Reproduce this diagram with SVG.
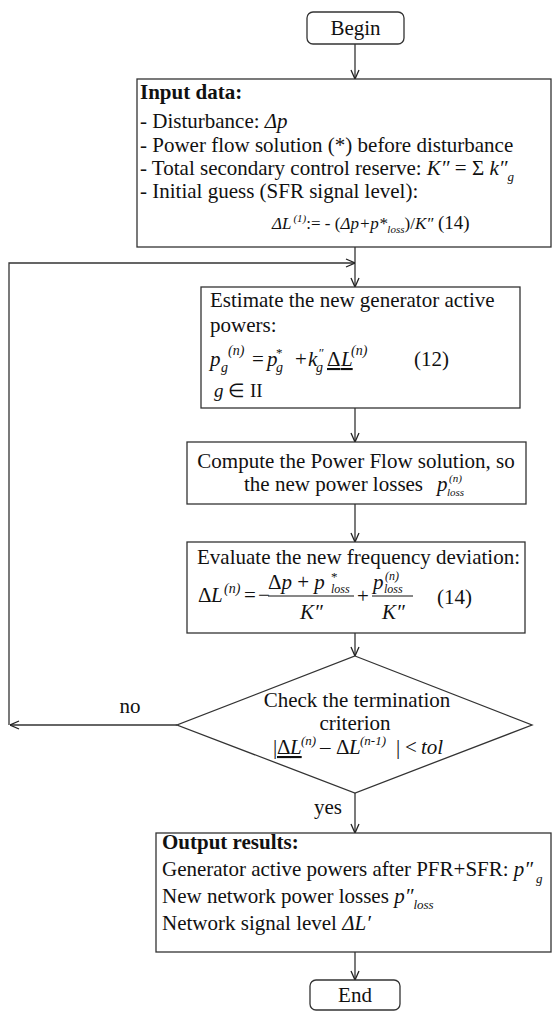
<svg xmlns="http://www.w3.org/2000/svg" width="553" height="1011" viewBox="0 0 553 1011" font-family="'Liberation Serif','Times New Roman',serif" font-size="21">
<style>
text{fill:#111}
.b{font-weight:bold}
.i{font-style:italic}
.n{font-style:normal}
.m{text-anchor:middle}
.box{fill:#fff;stroke:#333;stroke-width:1.3}
.cn{fill:none;stroke:#333;stroke-width:1.3}
.bar{stroke:#111;stroke-width:1}
</style>
<defs>
<marker id="ah" viewBox="0 0 10 10" refX="10" refY="5" markerWidth="10" markerHeight="10" markerUnits="userSpaceOnUse" orient="auto">
<path d="M1,1 L10,5 L1,9" fill="none" stroke="#222" stroke-width="1.3"/>
</marker>
</defs>
<rect x="0" y="0" width="553" height="1011" fill="#fff"/>

<g id="connectors">
<path class="cn" d="M355,44 V79" marker-end="url(#ah)"/>
<path class="cn" d="M355,247 V287" marker-end="url(#ah)"/>
<path class="cn" d="M9,725 V263 H355" marker-end="url(#ah)"/>
<path class="cn" d="M177,725 H10" marker-end="url(#ah)"/>
<path class="cn" d="M355,408 V442" marker-end="url(#ah)"/>
<path class="cn" d="M355,504 V542" marker-end="url(#ah)"/>
<path class="cn" d="M355,633 V656" marker-end="url(#ah)"/>
<path class="cn" d="M355,793 V833" marker-end="url(#ah)"/>
<path class="cn" d="M355,952 V980" marker-end="url(#ah)"/>
<text class="m" x="130" y="713">no</text>
<text class="m" x="328" y="814">yes</text>
</g>

<g id="begin">
<rect class="box" x="307" y="12" width="97" height="32" rx="6"/>
<text class="m" x="355.5" y="35">Begin</text>
</g>

<g id="input">
<rect class="box" x="137" y="79" width="414" height="168"/>
<text class="b" x="140" y="99">Input data:</text>
<text x="140" y="128">- Disturbance: <tspan class="i">Δp</tspan></text>
<text x="140" y="152">- Power flow solution (*) before disturbance</text>
<text x="140" y="175">- Total secondary control reserve: <tspan class="i">K″</tspan> = Σ <tspan class="i">k″</tspan><tspan class="i" font-size="13" dy="6">g</tspan></text>
<text x="140" y="198">- Initial guess (SFR signal level):</text>
<text x="272" y="229" font-size="17"><tspan class="i">ΔL</tspan><tspan class="i" font-size="11" dx="2" dy="-7">(1)</tspan><tspan dy="7">:= - (</tspan><tspan class="i">Δp+p*</tspan><tspan class="i" font-size="11" dy="4">loss</tspan><tspan dy="-4">)/</tspan><tspan class="i">K″</tspan><tspan font-size="19"> (14)</tspan></text>
</g>

<g id="estimate">
<rect class="box" x="201" y="287" width="319" height="121"/>
<text x="210" y="307">Estimate the new generator active</text>
<text x="210" y="332">powers:</text>
<text class="i" y="366"><tspan x="210">p</tspan><tspan x="221" y="372" font-size="14">g</tspan><tspan x="228" y="355" font-size="14">(n)</tspan><tspan class="n" x="252" y="366">=</tspan><tspan x="267">p</tspan><tspan class="n" x="276" y="357" font-size="13">*</tspan><tspan x="276" y="372" font-size="14">g</tspan><tspan class="n" x="295" y="366">+</tspan><tspan x="308">k</tspan><tspan x="318" y="357" font-size="13">″</tspan><tspan x="316" y="372" font-size="14">g</tspan><tspan class="n" x="327" y="366" text-decoration="underline">Δ</tspan><tspan x="341" text-decoration="underline">L</tspan><tspan x="351" y="355" font-size="14">(n)</tspan><tspan class="n" x="414" y="366">(12)</tspan></text>
<text x="214" y="397" font-size="19"><tspan class="i">g</tspan> ∈ II</text>
</g>

<g id="compute">
<rect class="box" x="187" y="442" width="339" height="62"/>
<text class="m" x="356" y="468">Compute the Power Flow solution, so</text>
<text x="244" y="491">the new power losses</text>
<text class="i" x="437" y="491">p</text>
<text class="i" x="447" y="496" font-size="11">loss</text>
<text class="i" x="449" y="482" font-size="11">(n)</text>
</g>

<g id="evaluate">
<rect class="box" x="187" y="542" width="338" height="91"/>
<text x="197" y="564">Evaluate the new frequency deviation:</text>
<text y="602"><tspan x="198">Δ</tspan><tspan class="i" x="211">L</tspan><tspan class="i" x="224" y="593" font-size="14">(n)</tspan><tspan x="244" y="602">=</tspan><tspan x="258">−</tspan></text>
<text y="589"><tspan x="268">Δ</tspan><tspan class="i">p</tspan> + <tspan class="i">p</tspan></text>
<text x="331" y="581" font-size="13">*</text>
<text class="i" x="331" y="593" font-size="12">loss</text>
<line class="bar" x1="268" y1="596" x2="354" y2="596"/>
<text class="i" x="300" y="619">K″</text>
<text x="357" y="603">+</text>
<text class="i" x="373" y="589">p</text>
<text class="i" x="385" y="580" font-size="12">(n)</text>
<text class="i" x="384" y="593" font-size="12">loss</text>
<line class="bar" x1="372" y1="596" x2="413" y2="596"/>
<text class="i" x="382" y="619">K″</text>
<text x="437" y="604">(14)</text>
</g>

<g id="check">
<polygon class="box" points="355,656 532,725 355,793 177,725"/>
<text class="m" x="357" y="707">Check the termination</text>
<text class="m" x="355" y="730">criterion</text>
<text y="754"><tspan x="273">|</tspan><tspan x="277" text-decoration="underline">Δ</tspan><tspan class="i" x="290" text-decoration="underline">L</tspan><tspan class="i" x="301" y="745" font-size="13">(n)</tspan><tspan x="320" y="754">–</tspan><tspan x="336">Δ</tspan><tspan class="i" x="349">L</tspan><tspan class="i" x="360" y="745" font-size="13">(n-1)</tspan><tspan x="396" y="754">|</tspan><tspan x="405">&lt;</tspan><tspan class="i" x="421">tol</tspan></text>
</g>

<g id="output">
<rect class="box" x="156" y="833" width="395" height="119"/>
<text class="b" x="162" y="849">Output results:</text>
<text x="162" y="876">Generator active powers after PFR+SFR: <tspan class="i">p″</tspan><tspan class="i" font-size="13" dx="3" dy="7">g</tspan></text>
<text x="162" y="903">New network power losses <tspan class="i">p″</tspan><tspan class="i" font-size="13" dy="6">loss</tspan></text>
<text x="162" y="930">Network signal level <tspan class="i">ΔL′</tspan></text>
</g>

<g id="end">
<rect class="box" x="310" y="980" width="90" height="30" rx="6"/>
<text class="m" x="355" y="1002">End</text>
</g>
</svg>
